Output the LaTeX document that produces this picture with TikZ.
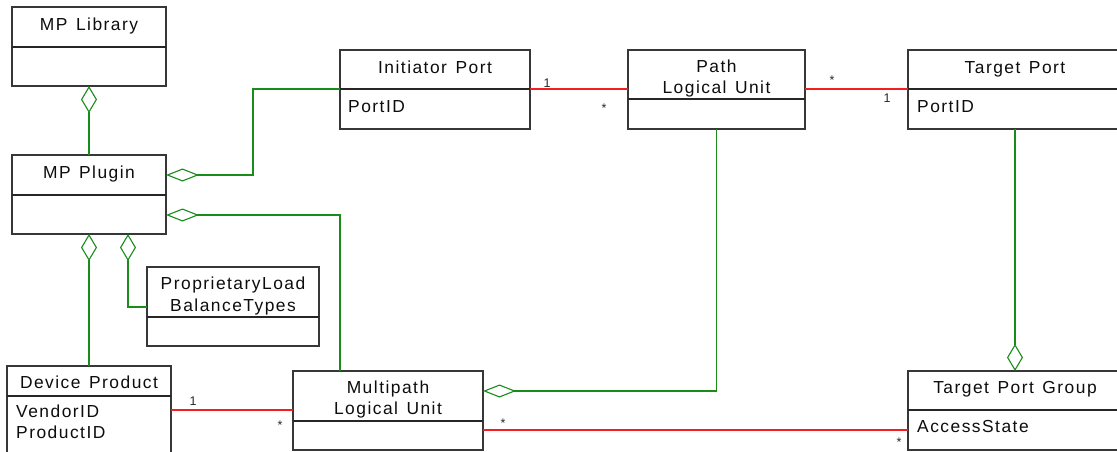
\documentclass[tikz,border=0pt]{standalone}
\usepackage{fontspec}
\setmainfont{Liberation Sans}[LetterSpace=8.5,WordSpace=1.35]
\newfontfamily\multfont{Liberation Sans}
\usetikzlibrary{arrows.meta,calc}
\definecolor{aggreen}{RGB}{25,140,25}
\definecolor{assocred}{RGB}{245,30,30}
\definecolor{boxline}{RGB}{55,55,55}
\begin{document}
\begin{tikzpicture}[x=1pt,y=-1pt,
  cls/.style={draw=boxline,line width=1.2pt,rectangle,inner sep=0pt,outer sep=0pt,anchor=north west},
  divline/.style={draw=black!85,line width=1.1pt},
  ttl/.style={anchor=base,inner sep=0pt,font=\fontsize{17.4}{20}\selectfont,text=black!95},
  attr/.style={anchor=base west,inner sep=0pt,font=\fontsize{17.4}{20}\selectfont,text=black!95},
  mult/.style={anchor=base,inner sep=0pt,font=\multfont\fontsize{12.5}{14}\selectfont,text=black!85},
  agg/.style={draw=aggreen,line width=1.15pt},
  assoc/.style={draw=assocred,line width=1.15pt},
  vdia/.style={{Diamond[open,length=27pt,width=16pt,line width=1.1pt]}-},
  hdia/.style={{Diamond[open,length=33pt,width=13pt,line width=1.1pt]}-},
]
\useasboundingbox (0,0) rectangle (1117,451);
\fill[white] (0,0) rectangle (1117,451);

% ---- classes: outline, compartment divider, name, attributes ----
\node[cls,minimum width=154pt,minimum height=79pt] (lib) at (12,7) {};
\draw[divline] ($(lib.north west)+(0,40)$) -- ($(lib.north east)+(0,40)$);
\node[ttl] (libT) at ($(lib.north)+(0,23)$) {MP Library};

\node[cls,minimum width=154pt,minimum height=79pt] (plug) at (12,155) {};
\draw[divline] ($(plug.north west)+(0,40)$) -- ($(plug.north east)+(0,40)$);
\node[ttl] (plugT) at ($(plug.north)+(0,23)$) {MP Plugin};

\node[cls,minimum width=190pt,minimum height=79pt] (init) at (340,50) {};
\draw[divline] ($(init.north west)+(0,39)$) -- ($(init.north east)+(0,39)$);
\node[ttl] (initT) at ($(init.north)+(0,23)$) {Initiator Port};
\node[attr] (initA) at ($(init.north west)+(8,62)$) {PortID};

\node[cls,minimum width=177pt,minimum height=79pt] (path) at (628,50) {};
\draw[divline] ($(path.north west)+(0,49)$) -- ($(path.north east)+(0,49)$);
\node[ttl] (pathT1) at ($(path.north)+(0,22)$) {Path};
\node[ttl] (pathT2) at ($(path.north)+(0,43)$) {Logical Unit};

\node[cls,minimum width=214pt,minimum height=79pt] (tport) at (908,50) {};
\draw[divline] ($(tport.north west)+(0,39)$) -- ($(tport.north east)+(0,39)$);
\node[ttl] (tportT) at ($(tport.north)+(0,23)$) {Target Port};
\node[attr] (tportA) at ($(tport.north west)+(9,62)$) {PortID};

\node[cls,minimum width=172pt,minimum height=79pt] (plbt) at (147,267) {};
\draw[divline] ($(plbt.north west)+(0,50)$) -- ($(plbt.north east)+(0,50)$);
\node[ttl] (plbtT1) at ($(plbt.north)+(0,22)$) {ProprietaryLoad};
\node[ttl] (plbtT2) at ($(plbt.north)+(0,44)$) {BalanceTypes};

\node[cls,minimum width=164pt,minimum height=100pt] (dev) at (7,366) {};
\draw[divline] ($(dev.north west)+(0,30)$) -- ($(dev.north east)+(0,30)$);
\node[ttl] (devT) at ($(dev.north)+(0,22)$) {Device Product};
\node[attr] (devA1) at ($(dev.north west)+(9,51)$) {VendorID};
\node[attr] (devA2) at ($(dev.north west)+(9,72)$) {ProductID};

\node[cls,minimum width=190pt,minimum height=79pt] (mlu) at (293,371) {};
\draw[divline] ($(mlu.north west)+(0,50)$) -- ($(mlu.north east)+(0,50)$);
\node[ttl] (mluT1) at ($(mlu.north)+(0,22)$) {Multipath};
\node[ttl] (mluT2) at ($(mlu.north)+(0,43)$) {Logical Unit};

\node[cls,minimum width=214pt,minimum height=79pt] (tpg) at (908,371) {};
\draw[divline] ($(tpg.north west)+(0,39)$) -- ($(tpg.north east)+(0,39)$);
\node[ttl] (tpgT) at ($(tpg.north)+(0,22)$) {Target Port Group};
\node[attr] (tpgA) at ($(tpg.north west)+(9,61)$) {AccessState};

% ---- connection points and bends ----
\coordinate (plugE1) at ($(plug.north east)+(0,20)$);
\coordinate (plugE2) at ($(plug.north east)+(0,60)$);
\coordinate (plugS2) at ($(plug.south west)+(116,0)$);
\coordinate (bendInit) at (253,175);
\coordinate (initW) at ($(init.north west)+(0,39)$);
\coordinate (initE) at ($(init.north east)+(0,39)$);
\coordinate (tportW) at ($(tport.north west)+(0,39)$);
\coordinate (plbtW) at ($(plbt.north west)+(0,40)$);
\coordinate (mluTop) at ($(mlu.north west)+(47,0)$);
\coordinate (mluE1) at ($(mlu.north east)+(0,20)$);
\coordinate (mluE2) at ($(mlu.north east)+(0,59)$);
\coordinate (devE) at ($(dev.north east)+(0,44)$);

% ---- aggregations ----
\draw[agg,vdia] (lib.south) -- (plug.north);
\draw[agg,hdia] (plugE1) -- (bendInit) |- (initW);
\draw[agg,hdia] (plugE2) -| (mluTop);
\draw[agg,vdia] (plug.south) -- (dev.north);
\draw[agg,vdia] (plugS2) |- (plbtW);
\draw[agg,hdia] (mluE1) -| (path.south);
\draw[agg,vdia] (tpg.north) -- (tport.south);

% ---- associations ----
\draw[assoc] (initE) -- (initE -| path.west);
\draw[assoc] (tportW -| path.east) -- (tportW);
\draw[assoc] (devE) -- (devE -| mlu.west);
\draw[assoc] (mluE2) -- (mluE2 -| tpg.west);

% ---- multiplicities ----
\node[mult] (m1) at (547,87) {1};
\node[mult] (m2) at (604,112) {*};
\node[mult] (m3) at (832,84) {*};
\node[mult] (m4) at (887,102) {1};
\node[mult] (m5) at (193,405) {1};
\node[mult] (m6) at (280,429) {*};
\node[mult] (m7) at (503,427) {*};
\node[mult] (m8) at (899,446) {*};
\end{tikzpicture}
\end{document}
